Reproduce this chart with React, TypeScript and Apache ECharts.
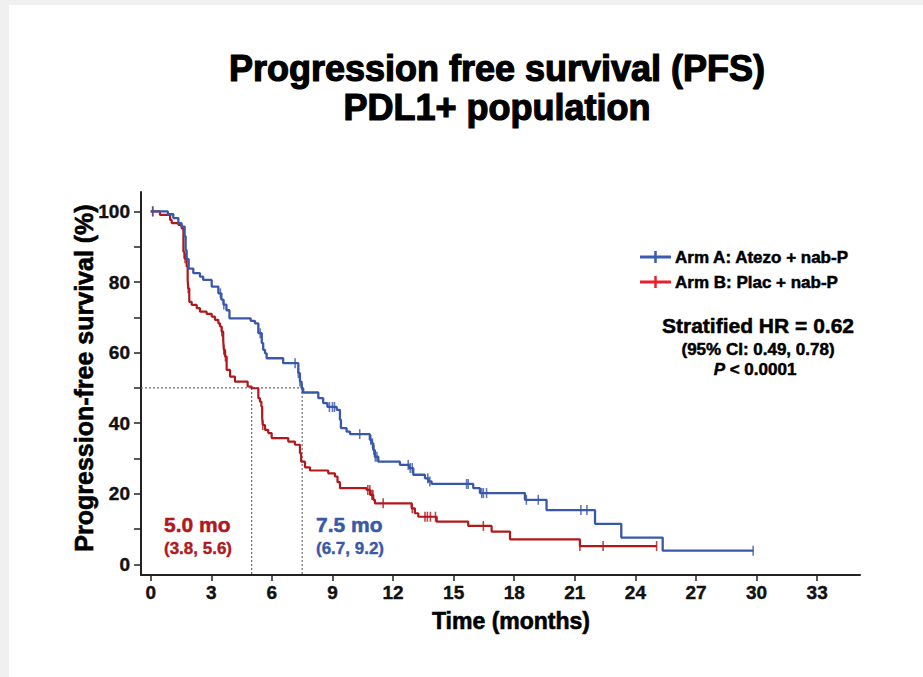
import React, { useEffect, useRef } from "react";
import * as echarts from "echarts";

// ---- Data ----
const armATimes = [0, 0.85, 1.12, 1.37, 1.53, 1.68, 1.73, 1.78, 1.88, 2.11, 2.44, 2.6, 3.02, 3.35, 3.5, 3.6, 3.75, 3.9, 4.95, 5.16, 5.33, 5.5, 5.57, 5.66, 5.74, 6.56, 7.31, 7.39, 7.47, 7.55, 8.3, 8.54, 8.75, 9.21, 9.37, 9.42, 9.7, 9.87, 10.85, 10.94, 11.02, 11.1, 11.27, 12.34, 12.8, 13.0, 13.58, 13.75, 13.91, 15.97, 16.3, 18.53, 19.6, 22.0, 23.3, 25.35, 29.83];
const armASurv = [100, 99.2, 98.1, 96.7, 95.7, 93.0, 89.0, 86.5, 83.8, 82.5, 81.5, 80.6, 78.7, 76.8, 75.0, 73.6, 72.0, 69.7, 69.0, 68.3, 65.5, 62.7, 60.8, 59.8, 58.4, 57.0, 54.2, 51.8, 49.9, 48.7, 47.1, 45.7, 44.6, 43.8, 41.0, 38.6, 37.6, 36.9, 35.3, 34.3, 32.4, 30.5, 29.1, 28.2, 27.3, 25.4, 24.4, 23.5, 22.8, 21.6, 20.2, 18.3, 15.4, 11.5, 7.6, 3.9, 3.9];
const armACensor = [0.1, 3.45, 3.62, 5.42, 7.15, 7.31, 7.39, 7.5, 8.85, 9.0, 9.1, 10.35, 10.9, 10.98, 11.05, 11.12, 11.2, 12.75, 12.85, 12.95, 13.72, 13.82, 15.64, 15.72, 16.39, 16.47, 16.63, 18.6, 19.19, 21.3, 21.6, 29.83];

const armBTimes = [0, 0.46, 0.96, 1.04, 1.37, 1.53, 1.62, 1.67, 1.78, 1.83, 1.86, 1.91, 2.03, 2.28, 2.44, 2.77, 3.02, 3.18, 3.35, 3.43, 3.51, 3.59, 3.62, 3.68, 3.76, 3.93, 4.17, 4.8, 5.0, 5.33, 5.41, 5.48, 5.52, 5.55, 5.66, 5.82, 5.99, 6.81, 7.14, 7.39, 7.45, 7.64, 7.89, 8.79, 9.12, 9.25, 9.37, 10.69, 10.86, 11.02, 11.1, 12.92, 13.08, 13.25, 14.16, 15.72, 16.88, 17.79, 21.25, 25.05];
const armBSurv = [100, 99.0, 97.6, 96.7, 96.2, 95.2, 88.6, 86.7, 84.4, 80.6, 78.2, 74.4, 73.5, 72.6, 71.6, 71.0, 70.2, 69.3, 68.3, 67.4, 66.0, 63.6, 60.8, 58.9, 55.1, 53.2, 51.8, 50.4, 49.9, 47.1, 46.1, 44.7, 41.5, 39.5, 38.1, 37.2, 35.8, 34.8, 33.9, 31.5, 29.1, 27.5, 26.6, 25.8, 24.9, 23.3, 21.6, 21.1, 19.7, 18.3, 17.3, 15.9, 14.5, 13.5, 12.1, 10.9, 9.3, 7.1, 5.2, 5.2];
const armBCensor = [0.1, 1.7, 1.86, 3.52, 3.62, 3.7, 5.55, 10.75, 10.85, 10.95, 11.0, 11.51, 12.95, 13.58, 13.7, 13.85, 14.1, 16.47, 21.25, 22.4, 25.05];

const medianB = 5.0;
const medianA = 7.5;
const medianLevel = 50;

const xTicks = [0, 3, 6, 9, 12, 15, 18, 21, 24, 27, 30, 33];
const yTicks = [0, 10, 20, 30, 40, 50, 60, 70, 80, 90, 100];
const yLabels = [0, 20, 40, 60, 80, 100];

const BLUE = "#3a58a8";
const DARKRED = "#b0181c";
const LEG_BLUE = "#3b5bb2";
const LEG_RED = "#e8202a";
const FONT = "Liberation Sans";

function survAt(times: number[], surv: number[], t: number) {
  let v = surv[0];
  for (let i = 0; i < times.length; i++) {
    if (times[i] <= t + 1e-9) v = surv[i];
  }
  return v;
}

export default function App() {
  const ref = useRef<HTMLDivElement>(null);
  useEffect(() => {
    document.body.style.margin = "0";
    if (!ref.current) return;
    const chart = echarts.init(ref.current, null, { renderer: "svg" });
    const XMIN = -0.48;
    const YMIN = -3;
    const dotted = {
      type: [2, 2] as any,
      color: "#6d6d6d",
      width: 1.2,
    };
    const textStyle = (size: number, color = "#000", sw = 0.5, extra: any = {}) => ({
      fontSize: size,
      fontWeight: "bold",
      fontFamily: FONT,
      fill: color,
      stroke: color,
      lineWidth: sw,
      ...extra,
    });
    const tickLabel = {
      fontSize: 19,
      fontWeight: "bold",
      fontFamily: FONT,
      color: "#111",
      textBorderColor: "#111",
      textBorderWidth: 0.4,
    };
    chart.setOption({
      animation: false,
      backgroundColor: "#ffffff",
      grid: { left: 141, right: 63, top: 192, bottom: 102, containLabel: false },
      xAxis: {
        type: "value",
        min: XMIN,
        max: 35.12,
        axisLine: { show: true, onZero: false, lineStyle: { color: "#222", width: 2 } },
        axisTick: { show: true, customValues: xTicks, length: 6, lineStyle: { color: "#222", width: 1.5 } },
        axisLabel: { customValues: xTicks, ...tickLabel, margin: 8 },
        splitLine: { show: false },
      },
      yAxis: {
        type: "value",
        min: YMIN,
        max: 105.5,
        axisLine: { show: true, onZero: false, lineStyle: { color: "#222", width: 2 } },
        axisTick: { show: true, customValues: yTicks, length: 7, lineStyle: { color: "#222", width: 1.5 } },
        axisLabel: { customValues: yLabels, ...tickLabel, margin: 11 },
        splitLine: { show: false },
      },
      series: [
        { type: "line", data: [[XMIN, medianLevel], [medianA, medianLevel]], symbol: "none", lineStyle: dotted, z: 1 },
        { type: "line", data: [[medianB, medianLevel], [medianB, YMIN]], symbol: "none", lineStyle: dotted, z: 1 },
        { type: "line", data: [[medianA, medianLevel], [medianA, YMIN]], symbol: "none", lineStyle: dotted, z: 1 },
        {
          name: "Arm B: Plac + nab-P",
          type: "line",
          step: "end",
          data: armBTimes.map((t, i) => [t, armBSurv[i]]),
          symbol: "none",
          lineStyle: { color: DARKRED, width: 2.2 },
          z: 3,
        },
        {
          name: "Arm A: Atezo + nab-P",
          type: "line",
          step: "end",
          data: armATimes.map((t, i) => [t, armASurv[i]]),
          symbol: "none",
          lineStyle: { color: BLUE, width: 2.3 },
          z: 4,
        },
        {
          type: "scatter",
          data: armBCensor.map((t) => [t, survAt(armBTimes, armBSurv, t)]),
          symbol: "rect",
          symbolSize: [1.6, 10],
          itemStyle: { color: DARKRED },
          z: 5,
        },
        {
          type: "scatter",
          data: armACensor.map((t) => [t, survAt(armATimes, armASurv, t)]),
          symbol: "rect",
          symbolSize: [1.6, 10],
          itemStyle: { color: BLUE },
          z: 6,
        },
      ],
      graphic: [
        { type: "rect", shape: { x: 0, y: 0, width: 923, height: 5 }, style: { fill: "#f0f0f0" }, silent: true },
        { type: "rect", shape: { x: 0, y: 0, width: 9, height: 677 }, style: { fill: "#f0f0f0" }, silent: true },
        { type: "text", x: 497, y: 68, style: { text: "Progression free survival (PFS)", ...textStyle(36, "#000", 1.2), align: "center", verticalAlign: "middle" } },
        { type: "text", x: 497, y: 107, style: { text: "PDL1+ population", ...textStyle(36, "#000", 1.2), align: "center", verticalAlign: "middle" } },
        { type: "text", x: 511, y: 621, style: { text: "Time (months)", ...textStyle(23, "#000", 0.6), align: "center", verticalAlign: "middle" } },
        { type: "text", x: 84, y: 378, rotation: Math.PI / 2, style: { text: "Progression-free survival (%)", ...textStyle(25, "#000", 0.6), align: "center", verticalAlign: "middle" } },
        // legend
        { type: "line", shape: { x1: 640, y1: 257, x2: 671, y2: 257 }, style: { stroke: LEG_BLUE, lineWidth: 3 } },
        { type: "line", shape: { x1: 655.5, y1: 251, x2: 655.5, y2: 263 }, style: { stroke: LEG_BLUE, lineWidth: 2.5 } },
        { type: "text", x: 675, y: 257, style: { text: "Arm A: Atezo + nab-P", ...textStyle(17), align: "left", verticalAlign: "middle" } },
        { type: "line", shape: { x1: 640, y1: 282, x2: 671, y2: 282 }, style: { stroke: LEG_RED, lineWidth: 3 } },
        { type: "line", shape: { x1: 655.5, y1: 276, x2: 655.5, y2: 288 }, style: { stroke: LEG_RED, lineWidth: 2.5 } },
        { type: "text", x: 675, y: 282, style: { text: "Arm B: Plac + nab-P", ...textStyle(17), align: "left", verticalAlign: "middle" } },
        // HR block
        { type: "text", x: 758, y: 325, style: { text: "Stratified HR = 0.62", ...textStyle(21), align: "center", verticalAlign: "middle" } },
        { type: "text", x: 758, y: 349, style: { text: "(95% CI: 0.49, 0.78)", ...textStyle(17), align: "center", verticalAlign: "middle" } },
        {
          type: "text",
          x: 755,
          y: 369,
          style: {
            text: "{i|P} < 0.0001",
            ...textStyle(17),
            align: "center",
            verticalAlign: "middle",
            rich: { i: { fontStyle: "italic", fontWeight: "bold", fontSize: 17, fontFamily: FONT, fill: "#000", stroke: "#000", lineWidth: 0.5 } },
          },
        },
        // medians
        { type: "text", x: 164, y: 524, style: { text: "5.0 mo", ...textStyle(21, DARKRED), align: "left", verticalAlign: "middle" } },
        { type: "text", x: 164, y: 548, style: { text: "(3.8, 5.6)", ...textStyle(17, DARKRED, 0.4), align: "left", verticalAlign: "middle" } },
        { type: "text", x: 316, y: 524, style: { text: "7.5 mo", ...textStyle(21, BLUE), align: "left", verticalAlign: "middle" } },
        { type: "text", x: 316, y: 548, style: { text: "(6.7, 9.2)", ...textStyle(17, BLUE, 0.4), align: "left", verticalAlign: "middle" } },
      ],
    });
    return () => chart.dispose();
  }, []);
  return <div ref={ref} style={{ width: 923, height: 677, position: "absolute", left: 0, top: 0 }} />;
}
